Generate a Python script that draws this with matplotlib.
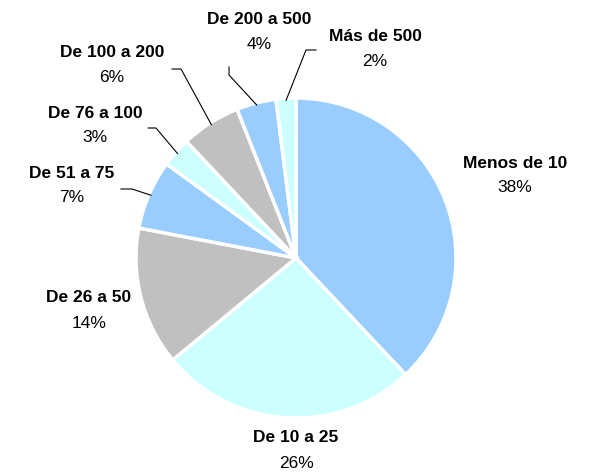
import numpy as np
import matplotlib
matplotlib.use('Agg')
import matplotlib.pyplot as plt

plt.rcParams['font.family'] = ['Liberation Sans', 'DejaVu Sans']

labels = ['Menos de 10', 'De 10 a 25', 'De 26 a 50', 'De 51 a 75',
          'De 76 a 100', 'De 100 a 200', 'De 200 a 500', 'Más de 500']
values = [38, 26, 14, 7, 3, 6, 4, 2]
colors = ['#99CCFF', '#CCFFFF', '#C0C0C0', '#99CCFF',
          '#CCFFFF', '#C0C0C0', '#99CCFF', '#CCFFFF']

W, H = 589, 473
fig = plt.figure(figsize=(W / 100, H / 100), dpi=100)
ax = fig.add_axes([0, 0, 1, 1])

cx, cy, r = 296, H - 258, 160
wedges, _ = ax.pie(values, colors=colors, startangle=90, counterclock=False,
                   center=(cx, cy), radius=r, frame=True,
                   wedgeprops=dict(edgecolor='white', linewidth=2.5))
ax.set_xlim(0, W)
ax.set_ylim(0, H)
ax.axis('off')

# label positions (pixel coords, y from top)
label_pos = [(515, 163), (296, 438), (89, 298), (72, 173),
             (95, 113), (112, 53), (259, 20), (375, 37)]
# leader line elbows for small slices
leaders = {
    3: [(121, 189), (132, 189)],
    4: [(148, 128), (156, 128)],
    5: [(172, 69), (181, 69)],
    6: [(229, 67), (229, 75)],
    7: [(316, 50), (306, 50)],
}

fs = 12.5
for i, (lab, v) in enumerate(zip(labels, values)):
    x, y = label_pos[i]
    ax.text(x, H - y, lab, ha='center', va='center', fontsize=fs,
            fontweight='bold', color='black')
    ax.text(x, H - y - 25, f'{v}%', ha='center', va='center', fontsize=fs,
            color='black')
    if i in leaders:
        w = wedges[i]
        mid = np.deg2rad((w.theta1 + w.theta2) / 2)
        ex = cx + (r - 2) * np.cos(mid)
        ey = cy + (r - 2) * np.sin(mid)
        pts = leaders[i]
        xs = [p[0] for p in pts] + [ex]
        ys = [H - p[1] for p in pts] + [ey]
        ax.plot(xs, ys, color='black', linewidth=0.8)

fig.savefig('out.png', dpi=100)
